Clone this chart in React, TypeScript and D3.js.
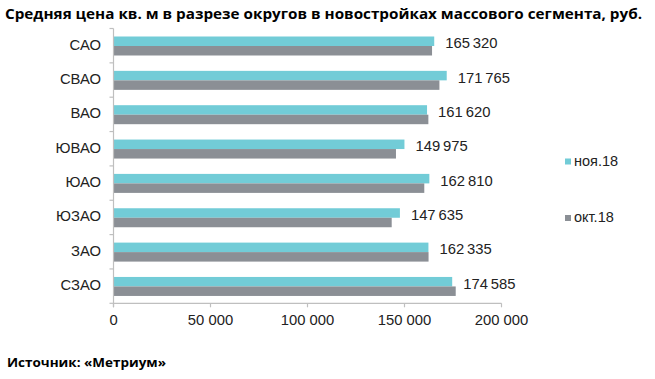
import React from "react";
import * as d3 from "d3";

const categories = ["САО", "СВАО", "ВАО", "ЮВАО", "ЮАО", "ЮЗАО", "ЗАО", "СЗАО"];
const nov18 = [165320, 171765, 161620, 149975, 162810, 147635, 162335, 174585];
const oct18 = [164200, 168000, 162300, 145600, 160200, 143400, 162400, 176400];
const seriesNames = ["ноя.18", "окт.18"];
const xTicks = [0, 50000, 100000, 150000, 200000];

const W = 655;
const H = 379;
const colors = ["#72CCD7", "#8B8F95"];
const fmt = (v: number) => d3.format(",")(v).replace(/,/g, "\u2009");
const fmtTick = (v: number) => d3.format(",")(v).replace(/,/g, " ");

export default function App() {
  const x = d3.scaleLinear().domain([0, 200000]).range([113.5, 501.5]);
  const y = d3.scaleBand<string>().domain(categories).range([28.5, 303.3]).padding(0);
  const inner = d3.scaleBand<string>().domain(seriesNames).range([8, 27]).padding(0);
  const series = [nov18, oct18];
  const font = "'Liberation Sans', Arial, sans-serif";
  const axisColor = "#BFBFBF";
  const yTickPositions = categories.map((c) => y(c)!).concat([y.range()[1]]);

  return (
    <svg width={W} height={H} style={{ position: "absolute", left: 0, top: 0, background: "#fff" }}>
      <text x={5} y={19} fontFamily="'Open Sans', 'Noto Sans', sans-serif" fontWeight="bold" fontSize={13.5}
        textLength={637} lengthAdjust="spacingAndGlyphs" fill="#000">
        Средняя цена кв. м в разрезе округов в новостройках массового сегмента, руб.
      </text>

      {categories.map((c, i) => (
        <g key={c}>
          {series.map((s, k) => (
            <rect key={k} x={x(0)} y={y(c)! + inner(seriesNames[k])!} width={x(s[i]) - x(0)}
              height={inner.bandwidth()} fill={colors[k]} />
          ))}
          <text x={x(nov18[i]) + 11} y={y(c)! + inner(seriesNames[0])! + inner.bandwidth() / 2 + 3}
            dominantBaseline="middle" fontFamily={font} fontSize={14.8} fill="#222">
            {fmt(nov18[i])}
          </text>
          <text x={101} y={y(c)! + y.bandwidth() / 2} textAnchor="end" dominantBaseline="middle"
            fontFamily={font} fontSize={14.8} fill="#222">
            {c}
          </text>
        </g>
      ))}

      {/* vertical axis */}
      <line x1={x(0)} x2={x(0)} y1={y.range()[0]} y2={y.range()[1] + 4} stroke={axisColor} strokeWidth={1.2} />
      {yTickPositions.map((p, i) => (
        <line key={i} x1={x(0) - 4} x2={x(0)} y1={p} y2={p} stroke={axisColor} strokeWidth={1.2} />
      ))}
      {/* horizontal axis */}
      <line x1={x(0)} x2={x(200000)} y1={y.range()[1]} y2={y.range()[1]} stroke={axisColor} strokeWidth={1.2} />
      {xTicks.map((t) => (
        <g key={t}>
          <line x1={x(t)} x2={x(t)} y1={y.range()[1]} y2={y.range()[1] + 4} stroke={axisColor} strokeWidth={1.2} />
          <text x={x(t)} y={321} textAnchor="middle" dominantBaseline="middle" fontFamily={font} fontSize={14.8} fill="#222">
            {fmtTick(t)}
          </text>
        </g>
      ))}

      {/* legend */}
      {seriesNames.map((n, k) => (
        <g key={n} transform={`translate(565, ${k === 0 ? 161.5 : 218})`}>
          <rect x={0} y={-3} width={6} height={6} fill={colors[k]} />
          <text x={9} y={0.5} dominantBaseline="middle" fontFamily={font} fontSize={14.5} fill="#222">{n}</text>
        </g>
      ))}

      <text x={7} y={367} fontFamily="'Open Sans', 'Noto Sans', sans-serif" fontWeight="bold" fontSize={13}
        textLength={159} lengthAdjust="spacingAndGlyphs" fill="#000">
        Источник: «Метриум»
      </text>
    </svg>
  );
}
